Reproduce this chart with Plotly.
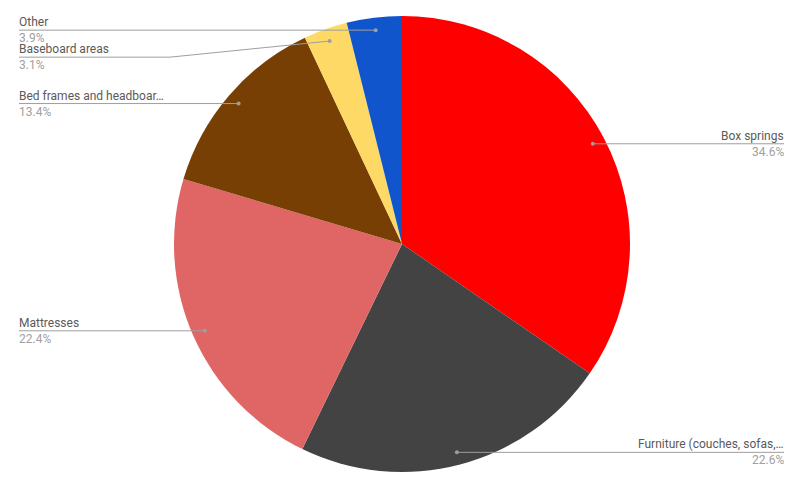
import math
import plotly.graph_objects as go

labels = ["Box springs", "Furniture (couches, sofas,…", "Mattresses",
          "Bed frames and headboar…", "Baseboard areas", "Other"]
values = [34.6, 22.6, 22.4, 13.4, 3.1, 3.9]
colors = ["#ff0000", "#434343", "#e06666", "#783f04", "#ffd966", "#1155cc"]

OFF = 8  # page body margin
W, H = 799 - OFF, 482 - OFF
cx, cy, R = 402, 244, 228
dot_r = 0.945 * R
left_x, right_x = 19, 784
bend_left, bend_right = 170, 634
min_gap = 27


def px(x):
    return (x - OFF) / W


def py(y):
    return 1 - (y - OFF) / H


fig = go.Figure(go.Pie(
    labels=labels, values=values, sort=False, direction="clockwise", rotation=0,
    marker=dict(colors=colors, line=dict(width=0)),
    textinfo="none", hoverinfo="label+percent", showlegend=False,
    domain=dict(x=[px(cx - R), px(cx + R)], y=[py(cy + R), py(cy - R)]),
))

total = sum(values)
items = []
cum = 0
for lab, v in zip(labels, values):
    mid = (cum + v / 2) / total * 2 * math.pi
    cum += v
    dx = cx + dot_r * math.sin(mid)
    dy = cy - dot_r * math.cos(mid)
    side = "right" if math.sin(mid) >= 0 else "left"
    items.append(dict(label=lab, pct=f"{v / total * 100:.1f}%", dx=dx, dy=dy, side=side, ly=dy))

for side in ("left", "right"):
    grp = sorted([it for it in items if it["side"] == side], key=lambda it: it["dy"])
    prev = None
    for it in grp:
        if prev is not None and it["ly"] < prev + min_gap:
            it["ly"] = prev + min_gap
        prev = it["ly"]

shapes = []
annotations = []
line_col = "#9e9e9e"
for it in items:
    if it["side"] == "left":
        tx, anchor, bend = left_x, "left", bend_left
    else:
        tx, anchor, bend = right_x, "right", bend_right
    if abs(it["ly"] - it["dy"]) < 0.5:
        path = f"M {px(tx)},{py(it['ly'])} L {px(it['dx'])},{py(it['dy'])}"
    else:
        path = (f"M {px(tx)},{py(it['ly'])} L {px(bend)},{py(it['ly'])} "
                f"L {px(it['dx'])},{py(it['dy'])}")
    shapes.append(dict(type="path", xref="paper", yref="paper", path=path,
                       line=dict(color=line_col, width=1)))
    shapes.append(dict(type="circle", xref="paper", yref="paper",
                       x0=px(it["dx"] - 2), x1=px(it["dx"] + 2),
                       y0=py(it["dy"] + 2), y1=py(it["dy"] - 2),
                       fillcolor=line_col, line=dict(width=0)))
    annotations.append(dict(x=px(tx), y=py(it["ly"] - 1), xref="paper", yref="paper",
                            text=it["label"], showarrow=False, xanchor=anchor, yanchor="bottom",
                            borderpad=0, borderwidth=0,
                            font=dict(family="Roboto", size=12, color="#5a5a5a")))
    annotations.append(dict(x=px(tx), y=py(it["ly"] + 1), xref="paper", yref="paper",
                            text=it["pct"], showarrow=False, xanchor=anchor, yanchor="top",
                            borderpad=0, borderwidth=0,
                            font=dict(family="Roboto", size=12, color="#a0a0a0")))

fig.update_layout(
    width=W, height=H, margin=dict(l=0, r=0, t=0, b=0),
    paper_bgcolor="white", plot_bgcolor="white",
    shapes=shapes, annotations=annotations,
    font=dict(family="Roboto"),
)
fig.write_html("out.html")
